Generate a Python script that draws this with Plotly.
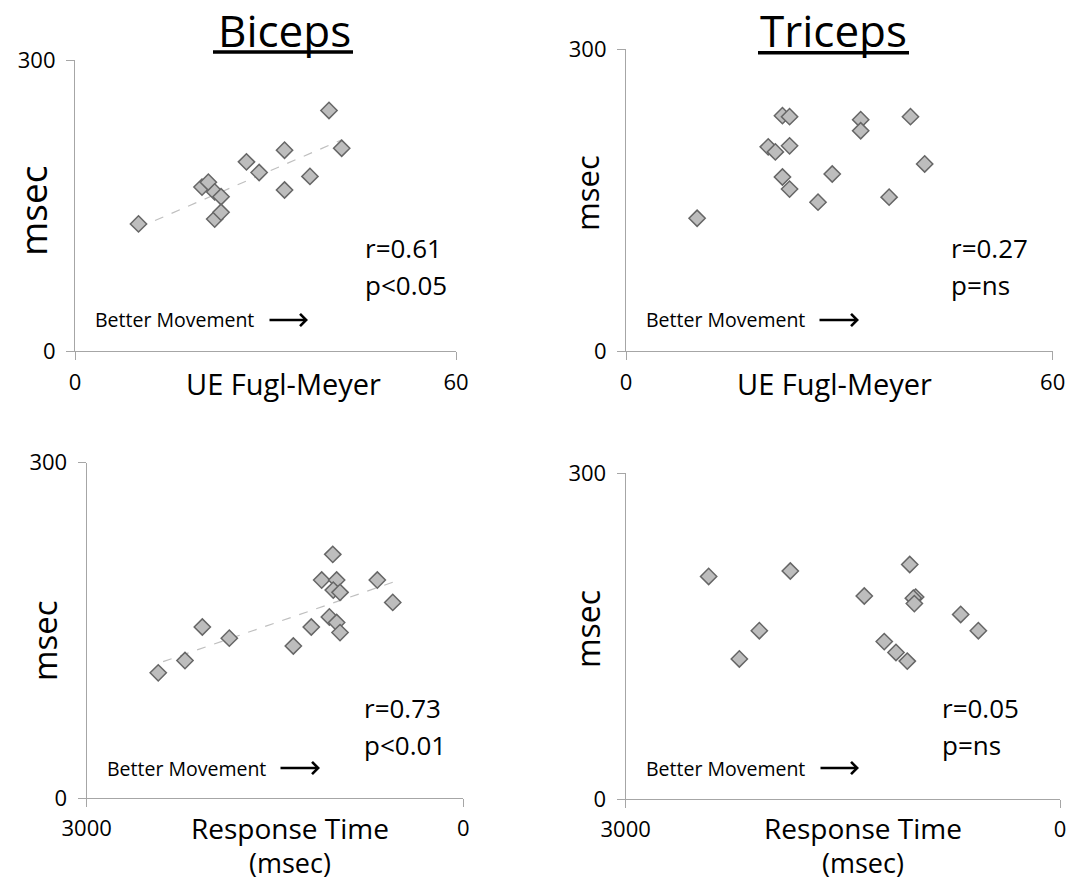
import numpy as np
import plotly.graph_objects as go

# page body has an 8px margin, so the figure is drawn 8px in from the window edge
OFF = 8
W, H = 1081 - 2 * OFF, 890 - 2 * OFF

# ---------------- data ----------------
# Biceps vs UE Fugl-Meyer
bic_fm_x = [10, 20, 21, 22, 22, 23, 23, 27, 29, 33, 33, 37, 40, 42]
bic_fm_y = [131, 169, 174, 164, 136, 159, 143, 195, 184, 207, 166, 180, 248, 209]
# Triceps vs UE Fugl-Meyer
tri_fm_x = [10, 22, 23, 20, 21, 23, 22, 23, 27, 29, 33, 33, 37, 40, 42]
tri_fm_y = [132, 234, 233, 203, 198, 204, 173, 161, 148, 176, 230, 219, 153, 233, 186]
# Biceps vs Response Time
bic_rt_x = [2430, 2217, 2079, 1864, 1354, 1211, 1067, 1009, 982, 1040, 1128, 1009, 1036, 982, 685, 562]
bic_rt_y = [112, 123, 153, 143, 136, 153, 162, 157, 148, 218, 195, 195, 186, 184, 195, 175]
# Triceps vs Response Time
tri_rt_x = [2427, 1863, 2077, 2215, 1352, 1038, 997, 1013, 1006, 686, 564, 1214, 1133, 1055]
tri_rt_y = [205, 210, 155, 129, 187, 216, 186, 185, 180, 170, 155, 145, 135, 127]

col_titles = ["Biceps", "Triceps"]
stats = [["r=0.61", "p<0.05"], ["r=0.27", "p=ns"], ["r=0.73", "p<0.01"], ["r=0.05", "p=ns"]]
fm_ticks = [0, 60]
rt_ticks = [3000, 0]
y_ticks = [0, 300]

FONT = "Open Sans"
AXCOL = "#A6A6A6"
FILL = "#BDBDBD"
EDGE = "#666666"


def px(x):
    return (x - OFF) / W


def py(y):
    return 1 - (y - OFF) / H


fig = go.Figure()

panels = [
    (bic_fm_x, bic_fm_y, True, "x", "y"),
    (tri_fm_x, tri_fm_y, False, "x2", "y2"),
    (bic_rt_x, bic_rt_y, True, "x3", "y3"),
    (tri_rt_x, tri_rt_y, False, "x4", "y4"),
]

for xs, ys, trend, xa, ya in panels:
    if trend:
        b, a = np.polyfit(xs, ys, 1)
        tx = np.array([min(xs), max(xs)], dtype=float)
        fig.add_trace(go.Scatter(x=tx, y=a + b * tx, mode="lines", xaxis=xa, yaxis=ya,
                                 line=dict(color="#BFBFBF", width=1.2, dash="dash"),
                                 hoverinfo="skip", showlegend=False))
    fig.add_trace(go.Scatter(x=xs, y=ys, mode="markers", xaxis=xa, yaxis=ya,
                             marker=dict(symbol="diamond", size=12.5, color=FILL,
                                         line=dict(color=EDGE, width=1.5)),
                             showlegend=False))

# axis domains in window pixel space (left, right, top, bottom)
doms = [
    (75, 456, 60, 351),
    (626, 1052.7, 49.3, 351),
    (86.7, 463.3, 462.7, 798),
    (625.7, 1060, 473.3, 799),
]

tickfont = dict(family=FONT, size=22, color="black")
layout_axes = {}
for i, (l, r, t, b) in enumerate(doms):
    sfx = "" if i == 0 else str(i + 1)
    is_rt = i >= 2
    layout_axes["xaxis" + sfx] = dict(
        domain=[px(l), px(r)], anchor="y" + sfx, automargin=False,
        range=[3000, 0] if is_rt else [0, 60],
        tickvals=rt_ticks if is_rt else fm_ticks,
        showline=True, linecolor=AXCOL, linewidth=1.2,
        ticks="outside", ticklen=8, tickcolor=AXCOL, tickwidth=1.2,
        showgrid=False, zeroline=False, tickfont=tickfont,
        ticklabelstandoff=3 if not is_rt else 2,
    )
    layout_axes["yaxis" + sfx] = dict(
        domain=[py(b), py(t)], anchor="x" + sfx, automargin=False,
        range=[0, 300], tickvals=y_ticks,
        showline=True, linecolor=AXCOL, linewidth=1.2,
        ticks="outside", ticklen=8, tickcolor=AXCOL, tickwidth=1.2,
        showgrid=False, zeroline=False, tickfont=tickfont,
        ticklabelstandoff=6,
    )

ann = []


def text(x, y, s, size, xanchor="center", angle=0):
    ann.append(dict(x=px(x), y=py(y), xref="paper", yref="paper", text=s,
                    showarrow=False, xanchor=xanchor, yanchor="middle", textangle=angle,
                    font=dict(family=FONT, size=size, color="black")))


# column titles
text(284, 30, col_titles[0], 44)
text(833, 30, col_titles[1], 44)

# x-axis titles
text(283, 384, "UE Fugl-Meyer", 29)
text(834, 384, "UE Fugl-Meyer", 29)
text(290, 828, "Response Time", 28)
text(290, 862, "(msec)", 27)
text(863, 828, "Response Time", 28)
text(863, 862, "(msec)", 27)

# y-axis titles
text(33, 211, "msec", 37, angle=-90)
text(587, 193, "msec", 31, angle=-90)
text(44, 640, "msec", 33, angle=-90)
text(587, 629, "msec", 32, angle=-90)

# stats
stat_pos = [(363, 248, 285), (949, 248, 285), (362, 708, 745), (940, 708, 745)]
for (x0, y0, y1), (rs, ps) in zip(stat_pos, stats):
    text(x0, y0, rs, 26, xanchor="left")
    text(x0, y1, ps, 26, xanchor="left")

# better movement + arrows
bm_pos = [(93, 320, 268, 308), (644, 320, 818, 859), (105, 768, 279, 320), (644, 768, 819, 859)]
for x0, y0, a0, a1 in bm_pos:
    text(x0, y0, "Better Movement", 19.5, xanchor="left")
    ann.append(dict(x=px(a1), y=py(y0), xref="paper", yref="paper",
                    ax=a0 - a1, ay=0, axref="pixel", ayref="pixel",
                    text="", showarrow=True, arrowhead=4, arrowsize=0.9,
                    arrowwidth=2.6, arrowcolor="black", standoff=0, startstandoff=0))

shapes = [
    dict(type="line", xref="paper", yref="paper", x0=px(213), x1=px(353), y0=py(52), y1=py(52),
         line=dict(color="black", width=3.5)),
    dict(type="line", xref="paper", yref="paper", x0=px(758), x1=px(909), y0=py(52.7), y1=py(52.7),
         line=dict(color="black", width=3.5)),
]

fig.update_layout(
    width=W, height=H, margin=dict(l=0, r=0, t=0, b=0, pad=0, autoexpand=False),
    paper_bgcolor="white", plot_bgcolor="white",
    showlegend=False, annotations=ann, shapes=shapes,
    font=dict(family=FONT, color="black"),
    **layout_axes,
)

fig.write_html("out.html")
